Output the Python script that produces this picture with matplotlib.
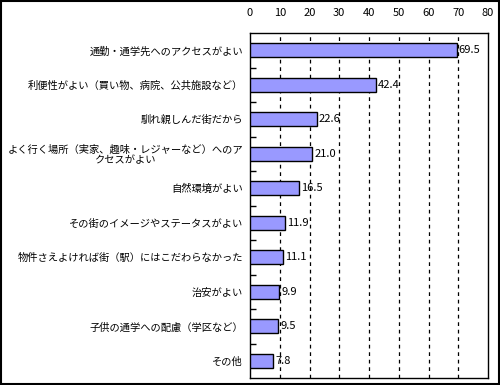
import matplotlib
matplotlib.use("Agg")
import matplotlib.pyplot as plt
from matplotlib.patches import Rectangle
from matplotlib.ticker import FixedLocator

plt.rcParams['font.family'] = ['Noto Sans CJK JP', 'DejaVu Sans']

categories = [
    "通勤・通学先へのアクセスがよい",
    "利便性がよい（買い物、病院、公共施設など）",
    "馴れ親しんだ街だから",
    "よく行く場所（実家、趣味・レジャーなど）へのア\nクセスがよい",
    "自然環境がよい",
    "その街のイメージやステータスがよい",
    "物件さえよければ街（駅）にはこだわらなかった",
    "治安がよい",
    "子供の通学への配慮（学区など）",
    "その他",
]
values = [69.5, 42.4, 22.6, 21.0, 16.5, 11.9, 11.1, 9.9, 9.5, 7.8]
xticks = [0, 10, 20, 30, 40, 50, 60, 70, 80]

fig = plt.figure(figsize=(5.0, 3.85), dpi=100)
ax = fig.add_axes([250/500, 1-378/385, 238/500, 345/385])

n = len(categories)
ys = list(range(n))
ax.barh(ys, values, height=0.42, color='#9999FF', edgecolor='black', linewidth=1.0, zorder=3)
ax.set_ylim(n - 0.5, -0.5)
ax.set_xlim(0, 80)

for y, v in zip(ys, values):
    ax.text(v + 0.6, y, f"{v:.1f}", va='center', ha='left', fontsize=8, zorder=4)

ax.xaxis.tick_top()
ax.set_xticks(xticks)
ax.set_xticklabels([str(t) for t in xticks], fontsize=8)
ax.tick_params(axis='x', length=0, pad=11)
for t in xticks[1:-1]:
    ax.axvline(t, color='black', linestyle=(0, (3, 3)), linewidth=0.9, zorder=1)

ax.set_yticks(ys)
ax.set_yticklabels(categories, fontsize=7.4, multialignment='center', linespacing=1.1)
ax.tick_params(axis='y', which='major', length=0, pad=5)
ax.yaxis.set_minor_locator(FixedLocator([i + 0.5 for i in range(n - 1)]))
ax.tick_params(axis='y', which='minor', direction='in', length=4, width=1)

for s in ax.spines.values():
    s.set_linewidth(1.0)
    s.set_color('black')

fig.patches.append(Rectangle((0.002, 0.003), 0.996, 0.994, transform=fig.transFigure,
                             fill=False, edgecolor='black', linewidth=1.5))

fig.savefig("out.png", dpi=100)
